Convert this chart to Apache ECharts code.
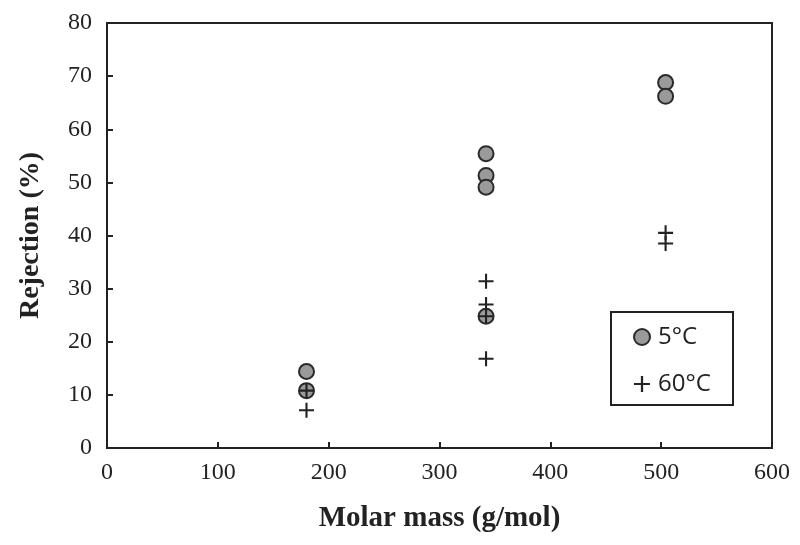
<!DOCTYPE html>
<html>
<head>
<meta charset="utf-8">
<script src="https://cdn.jsdelivr.net/npm/echarts@6/dist/echarts.min.js"></script>
<style>html,body{margin:0;padding:0;background:#fff}#c{width:800px;height:545px}</style>
</head>
<body>
<div id="c"></div>
<script>
// Data
const molarMass5 = [180, 180, 342, 342, 342, 342, 504, 504];
const rejection5 = [14.4, 10.8, 55.4, 51.3, 49.1, 24.8, 68.8, 66.2];
const molarMass60 = [180, 180, 342, 342, 342, 342, 504, 504];
const rejection60 = [10.8, 7.1, 31.4, 27.0, 24.8, 16.8, 40.5, 38.5];
const seriesNames = ['5°C', '60°C'];
const xTicks = [0, 100, 200, 300, 400, 500, 600];
const yTicks = [0, 10, 20, 30, 40, 50, 60, 70, 80];

const plusPath = 'path://M4.3,0 H5.7 V4.3 H10 V5.7 H5.7 V10 H4.3 V5.7 H0 V4.3 H4.3 Z';
const serif = '"Liberation Serif", "Times New Roman", serif';
const sans = '"Open Sans", "Noto Sans", sans-serif';

const chart = echarts.init(document.getElementById('c'), null, {renderer: 'canvas'});
chart.setOption({
  animation: false,
  backgroundColor: '#fff',
  grid: {left: 107, right: 28, top: 23, bottom: 97, show: true, borderColor: '#222', borderWidth: 2, backgroundColor: 'transparent'},
  xAxis: {
    type: 'value', min: xTicks[0], max: xTicks[xTicks.length - 1], interval: 100,
    name: 'Molar mass (g/mol)', nameLocation: 'middle', nameGap: 56,
    nameTextStyle: {fontFamily: serif, fontWeight: 'bold', fontSize: 29, color: '#222'},
    axisLine: {show: true, lineStyle: {color: '#222', width: 2}},
    axisTick: {show: true, inside: true, length: 6, lineStyle: {color: '#222', width: 2}},
    axisLabel: {fontFamily: serif, fontSize: 24, color: '#222', margin: 13},
    splitLine: {show: false}
  },
  yAxis: {
    type: 'value', min: yTicks[0], max: yTicks[yTicks.length - 1], interval: 10,
    name: 'Rejection (%)', nameLocation: 'middle', nameGap: 62, nameRotate: 90,
    nameTextStyle: {fontFamily: serif, fontWeight: 'bold', fontSize: 28, color: '#222'},
    axisLine: {show: true, lineStyle: {color: '#222', width: 2}},
    axisTick: {show: true, inside: true, length: 6, lineStyle: {color: '#222', width: 2}},
    axisLabel: {fontFamily: serif, fontSize: 24, color: '#222', margin: 15},
    splitLine: {show: false}
  },
  legend: {
    orient: 'vertical', left: 628, top: 320,
    itemWidth: 16, itemHeight: 16, itemGap: 23,
    textStyle: {fontFamily: sans, fontSize: 24, color: '#222', lineHeight: 24, padding: [0, 0, 0, 3]},
    data: [
      {name: seriesNames[0], icon: 'circle'},
      {name: seriesNames[1], icon: plusPath}
    ]
  },
  graphic: [{
    type: 'rect', shape: {x: 611, y: 312, width: 122, height: 93},
    style: {fill: 'transparent', stroke: '#222', lineWidth: 2}, z: 10
  }],
  series: [
    {
      name: seriesNames[0], type: 'scatter', symbol: 'circle', symbolSize: 15,
      itemStyle: {color: '#9a9a9a', borderColor: '#2a2a2a', borderWidth: 2, opacity: 1},
      data: molarMass5.map((x, i) => [x, rejection5[i]]), z: 2
    },
    {
      name: seriesNames[1], type: 'scatter', symbol: plusPath, symbolSize: 15,
      itemStyle: {color: '#222', opacity: 1},
      data: molarMass60.map((x, i) => [x, rejection60[i]]), z: 3
    }
  ]
});
</script>
</body>
</html>
